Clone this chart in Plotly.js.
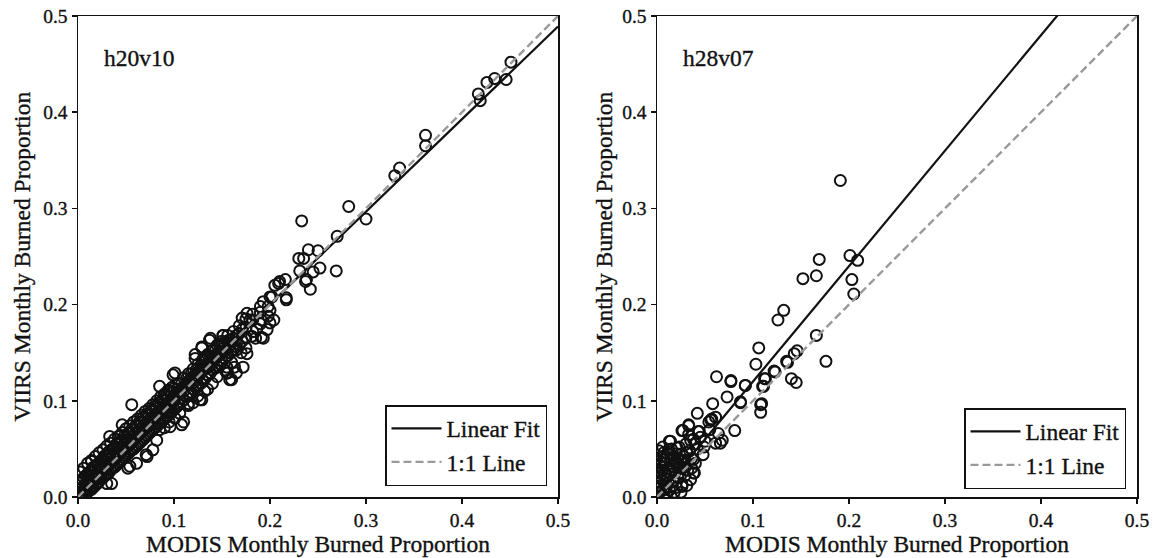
<!DOCTYPE html>
<html>
<head>
<meta charset="utf-8">
<script src="https://cdn.plot.ly/plotly-3.0.1.min.js"></script>
<style>
html,body{margin:0;padding:0;background:#fff;}
#chart{width:1153px;height:558px;}
#chart text{stroke:#111;stroke-width:0.35px;}
</style>
</head>
<body>
<div id="chart"></div>
<script>
// ---------------- DATA ----------------
const tileNames = ["h20v10", "h28v07"];
const xAxisTitle = "MODIS Monthly Burned Proportion";
const yAxisTitle = "VIIRS Monthly Burned Proportion";
const legendNames = ["Linear Fit", "1:1 Line"];
const tickValues = [0.0, 0.1, 0.2, 0.3, 0.4, 0.5];

// linear fit [intercept, slope] per tile
const fitH20v10 = [0.008, 0.962];
const fitH28v07 = [0.0, 1.2];

// [MODIS, VIIRS] pairs, tile h20v10
const pointsH20v10 = [
  // dense band
  [0.004,0.002],[0.004,0.010],[0.004,0.018],[0.004,0.000],
  [0.008,0.004],[0.008,0.014],[0.008,0.022],[0.008,0.009],
  [0.012,0.008],[0.012,0.018],[0.012,0.026],[0.012,0.013],
  [0.016,0.010],[0.016,0.022],[0.016,0.031],[0.016,0.016],
  [0.020,0.014],[0.020,0.026],[0.020,0.034],[0.020,0.021],
  [0.024,0.019],[0.024,0.030],[0.024,0.038],[0.024,0.026],
  [0.028,0.022],[0.028,0.034],[0.028,0.043],[0.028,0.029],
  [0.032,0.025],[0.032,0.039],[0.032,0.047],[0.032,0.034],
  [0.036,0.030],[0.036,0.042],[0.036,0.050],[0.036,0.037],
  [0.040,0.033],[0.040,0.046],[0.040,0.055],[0.040,0.041],
  [0.044,0.037],[0.044,0.050],[0.044,0.058],[0.044,0.045],
  [0.048,0.041],[0.048,0.054],[0.048,0.063],[0.048,0.049],
  [0.052,0.045],[0.052,0.058],[0.052,0.066],[0.052,0.053],
  [0.056,0.049],[0.056,0.062],[0.056,0.070],[0.056,0.058],
  [0.060,0.052],[0.060,0.066],[0.060,0.074],[0.060,0.061],
  [0.064,0.056],[0.064,0.070],[0.064,0.078],[0.064,0.065],
  [0.068,0.060],[0.068,0.074],[0.068,0.083],[0.068,0.069],
  [0.072,0.064],[0.072,0.078],[0.072,0.086],[0.072,0.073],
  [0.076,0.068],[0.076,0.082],[0.076,0.090],[0.076,0.077],
  [0.080,0.072],[0.080,0.086],[0.080,0.094],[0.080,0.081],
  [0.084,0.076],[0.084,0.089],[0.084,0.098],[0.084,0.085],
  [0.088,0.079],[0.088,0.094],[0.088,0.101],[0.088,0.088],
  [0.092,0.083],[0.092,0.097],[0.092,0.106],[0.092,0.093],
  [0.096,0.087],[0.096,0.101],[0.096,0.110],[0.096,0.097],
  [0.100,0.091],[0.100,0.105],[0.100,0.113],[0.100,0.100],
  [0.105,0.096],[0.105,0.110],[0.105,0.118],[0.105,0.106],
  [0.110,0.101],[0.110,0.115],[0.110,0.124],[0.110,0.110],
  [0.115,0.106],[0.115,0.120],[0.115,0.128],[0.115,0.116],
  [0.120,0.112],[0.120,0.125],[0.120,0.133],[0.120,0.119],
  [0.125,0.116],[0.125,0.130],[0.125,0.138],[0.125,0.125],
  [0.130,0.121],[0.130,0.134],[0.130,0.143],[0.130,0.131],
  [0.135,0.127],[0.135,0.139],[0.135,0.148],[0.135,0.135],
  [0.140,0.132],[0.140,0.144],[0.140,0.152],[0.140,0.140],
  [0.145,0.136],[0.145,0.149],[0.145,0.158],[0.145,0.146],
  [0.150,0.141],[0.150,0.154],[0.150,0.162],[0.150,0.150],
  [0.156,0.147],[0.156,0.160],[0.156,0.168],
  [0.162,0.153],[0.162,0.165],[0.162,0.172],
  [0.168,0.158],[0.168,0.170],[0.168,0.178],
  [0.175,0.166],[0.175,0.176],[0.175,0.185],
  [0.182,0.172],[0.182,0.184],[0.182,0.190],
  [0.190,0.180],[0.190,0.192],
  [0.198,0.188],[0.198,0.198],
  // second layer of the band
  [0.002,0.000],[0.002,0.016],[0.002,0.026],
  [0.006,0.001],[0.006,0.020],[0.006,0.030],[0.006,0.008],
  [0.010,0.005],[0.010,0.024],[0.010,0.035],[0.010,0.012],
  [0.014,0.008],[0.014,0.028],[0.014,0.038],[0.014,0.015],
  [0.018,0.012],[0.018,0.031],[0.018,0.042],[0.018,0.019],
  [0.022,0.016],[0.022,0.035],[0.022,0.046],[0.022,0.023],
  [0.026,0.020],[0.026,0.040],[0.026,0.049],[0.026,0.027],
  [0.030,0.024],[0.030,0.043],[0.030,0.053],[0.030,0.031],
  [0.034,0.028],[0.034,0.047],[0.034,0.056],[0.034,0.035],
  [0.038,0.031],[0.038,0.051],[0.038,0.060],[0.038,0.039],
  [0.042,0.035],[0.042,0.055],[0.042,0.063],[0.042,0.043],
  [0.046,0.039],[0.046,0.059],[0.046,0.067],[0.046,0.047],
  [0.050,0.043],[0.050,0.062],[0.050,0.071],[0.050,0.051],
  [0.054,0.047],[0.054,0.066],[0.054,0.074],[0.054,0.055],
  [0.058,0.050],[0.058,0.070],[0.058,0.078],[0.058,0.059],
  [0.062,0.054],[0.062,0.073],[0.062,0.081],[0.062,0.063],
  [0.066,0.058],[0.066,0.077],[0.066,0.085],[0.066,0.067],
  [0.070,0.062],[0.070,0.081],[0.070,0.089],[0.070,0.071],
  [0.074,0.066],[0.074,0.085],[0.074,0.092],[0.074,0.075],
  [0.078,0.070],[0.078,0.089],[0.078,0.096],[0.078,0.079],
  [0.082,0.073],[0.082,0.092],[0.082,0.100],[0.082,0.083],
  [0.086,0.077],[0.086,0.096],[0.086,0.104],[0.086,0.087],
  [0.090,0.081],[0.090,0.100],[0.090,0.107],[0.090,0.091],
  [0.094,0.085],[0.094,0.104],[0.094,0.111],[0.094,0.095],
  [0.098,0.089],[0.098,0.108],[0.098,0.114],[0.098,0.099],
  [0.103,0.094],[0.103,0.112],[0.103,0.108],
  [0.108,0.099],[0.108,0.118],[0.108,0.112],
  [0.113,0.104],[0.113,0.123],[0.113,0.117],
  [0.118,0.109],[0.118,0.128],[0.118,0.121],
  [0.123,0.114],[0.123,0.132],[0.123,0.126],
  [0.128,0.118],[0.128,0.137],[0.128,0.129],
  [0.133,0.124],[0.133,0.142],[0.133,0.134],
  [0.138,0.129],[0.138,0.146],[0.138,0.138],
  [0.143,0.134],[0.143,0.152],[0.143,0.144],
  [0.148,0.138],[0.148,0.156],[0.148,0.148],
  [0.153,0.144],[0.153,0.160],[0.153,0.152],
  [0.159,0.150],[0.159,0.163],[0.159,0.158],
  [0.165,0.156],[0.165,0.168],[0.165,0.164],
  [0.171,0.162],[0.171,0.174],
  [0.115,0.095],[0.125,0.105],[0.135,0.112],[0.145,0.125],[0.120,0.098],[0.140,0.118],
  [0.155,0.135],[0.160,0.140],[0.170,0.150],[0.175,0.155],[0.185,0.165],[0.090,0.072],[0.095,0.078],
  // scattered points
  [0.451,0.452],[0.446,0.434],[0.434,0.435],[0.426,0.431],[0.417,0.419],[0.419,0.412],
  [0.362,0.376],[0.362,0.365],[0.335,0.342],[0.330,0.334],
  [0.282,0.302],[0.300,0.289],[0.270,0.271],[0.269,0.235],[0.233,0.287],
  [0.240,0.257],[0.250,0.256],[0.252,0.238],[0.245,0.234],[0.238,0.226],[0.235,0.248],
  [0.230,0.248],[0.231,0.235],[0.242,0.216],[0.237,0.224],[0.217,0.207],
  [0.210,0.224],[0.216,0.226],[0.205,0.220],[0.202,0.208],[0.193,0.203],[0.190,0.198],
  [0.200,0.194],[0.176,0.191],[0.171,0.186],[0.179,0.184],[0.191,0.184],[0.200,0.181],
  [0.204,0.184],[0.197,0.174],[0.186,0.175],[0.181,0.167],[0.193,0.165],
  [0.129,0.156],[0.138,0.165],[0.122,0.148],[0.151,0.168],[0.157,0.163],[0.165,0.153],[0.176,0.149],
  [0.217,0.205],[0.209,0.222],[0.200,0.208],[0.191,0.166],
  [0.172,0.135],[0.158,0.122],[0.165,0.129],[0.155,0.129],
  [0.099,0.127],[0.085,0.115],[0.056,0.096],[0.046,0.075],[0.033,0.063],[0.014,0.037],
  [0.132,0.110],[0.110,0.078],[0.078,0.049],[0.127,0.101],[0.124,0.115],
  [0.106,0.087],[0.096,0.073],[0.085,0.070],[0.082,0.059],[0.072,0.042],
  [0.054,0.032],[0.030,0.014],[0.061,0.035],[0.138,0.139],[0.144,0.146],[0.151,0.160],
  [0.101,0.129],[0.122,0.144],[0.129,0.155],[0.137,0.163],[0.141,0.153],[0.151,0.168],
  [0.156,0.129],[0.160,0.122],[0.163,0.135],[0.153,0.132],
  [0.129,0.101],[0.108,0.075],[0.101,0.082],[0.071,0.044],[0.052,0.030],[0.035,0.014],
  [0.092,0.089],[0.115,0.097]
];

// [MODIS, VIIRS] pairs, tile h28v07
const pointsH28v07 = [
  [0.191,0.329],[0.169,0.247],[0.201,0.251],[0.209,0.246],[0.152,0.227],[0.166,0.230],
  [0.203,0.226],[0.205,0.211],[0.132,0.194],[0.126,0.184],[0.166,0.168],[0.106,0.155],
  [0.176,0.141],[0.103,0.138],[0.146,0.152],[0.143,0.149],[0.136,0.140],[0.122,0.131],
  [0.140,0.123],[0.145,0.119],[0.112,0.123],[0.110,0.115],[0.092,0.116],[0.087,0.099],
  [0.108,0.096],[0.062,0.125],[0.077,0.120],[0.111,0.115],[0.073,0.104],[0.058,0.097],
  [0.109,0.097],[0.087,0.098],[0.108,0.088],[0.042,0.087],[0.056,0.080],[0.054,0.078],
  [0.081,0.069],[0.064,0.066],[0.068,0.059],[0.033,0.075],[0.026,0.069],[0.043,0.068],
  [0.035,0.059],[0.013,0.058],[0.012,0.049],[0.021,0.051],[0.049,0.052],[0.061,0.056],
  [0.028,0.042],[0.007,0.039],[0.038,0.039],[0.017,0.032],[0.039,0.025],[0.026,0.011],
  [0.005,0.018],[0.010,0.011],[0.002,0.028],[0.077,0.121],[0.092,0.116],[0.113,0.123],
  [0.123,0.130],[0.135,0.141],[0.057,0.081],[0.061,0.083],[0.033,0.074],[0.027,0.069],
  [0.014,0.058],[0.066,0.056],[0.038,0.025],[0.026,0.013],
  // dense cluster near the origin
  [0.002,0.005],[0.004,0.012],[0.003,0.020],[0.006,0.028],[0.008,0.035],[0.005,0.042],
  [0.010,0.003],[0.012,0.015],[0.014,0.024],[0.016,0.032],[0.018,0.040],[0.015,0.050],
  [0.020,0.010],[0.022,0.020],[0.024,0.030],[0.026,0.045],[0.028,0.038],[0.030,0.055],
  [0.032,0.028],[0.034,0.048],[0.036,0.040],[0.038,0.060],[0.040,0.035],[0.042,0.050],
  [0.045,0.062],[0.048,0.044],[0.001,0.000],[0.007,0.000],[0.009,0.018],[0.011,0.045],
  [0.013,0.007],[0.017,0.017],[0.019,0.026],[0.021,0.034],[0.023,0.052],[0.025,0.005],
  [0.029,0.022],[0.031,0.012],[0.003,0.033],[0.006,0.052],[0.000,0.015],[0.000,0.025],
  [0.000,0.040],[0.002,0.048],[0.035,0.018],[0.050,0.058],[0.055,0.070],[0.044,0.068],
  [0.033,0.065],[0.008,0.025],[0.018,0.005],[0.020,0.045],[0.027,0.030],[0.015,0.038],
  [0.004,0.006],[0.010,0.022],[0.022,0.040],[0.030,0.036],[0.012,0.030],[0.001,0.010],
  [0.005,0.035],[0.009,0.008],[0.014,0.044],[0.016,0.012],[0.019,0.036],[0.023,0.025],
  [0.025,0.038],[0.031,0.046],[0.036,0.030],[0.040,0.055],[0.007,0.046],[0.003,0.026]
];

// ---------------- BUILD ----------------
const FONT = "Liberation Serif, Times New Roman, serif";
const xRange = [0, 0.5];

function fitLine(fit) {
  return xRange.map(x => fit[0] + fit[1] * x);
}

function panelTraces(points, fit, xa, ya, legendId) {
  return [
    {
      x: points.map(p => p[0]), y: points.map(p => p[1]),
      xaxis: xa, yaxis: ya, type: "scatter", mode: "markers", showlegend: false,
      marker: {symbol: "circle-open", size: 11, color: "#111", line: {width: 2, color: "#111"}},
      hoverinfo: "skip"
    },
    {
      x: xRange, y: fitLine(fit), xaxis: xa, yaxis: ya, type: "scatter", mode: "lines",
      name: legendNames[0], legend: legendId,
      line: {color: "#111", width: 2.2}
    },
    {
      x: xRange, y: xRange, xaxis: xa, yaxis: ya, type: "scatter", mode: "lines",
      name: legendNames[1], legend: legendId,
      line: {color: "#999", width: 2.4, dash: "8px,4px"}
    }
  ];
}

const data = [
  ...panelTraces(pointsH20v10, fitH20v10, "x", "y", "legend"),
  ...panelTraces(pointsH28v07, fitH28v07, "x2", "y2", "legend2")
];

const W = 1153, H = 558;
const TICK = 19.5, TITLE = 23.5;
function axisCommon() {
  return {
    range: xRange, tickvals: tickValues, tickformat: ".1f",
    showline: true, mirror: true, linecolor: "#111", linewidth: 1.5,
    ticks: "outside", ticklen: 5, tickwidth: 1.5, tickcolor: "#111",
    showgrid: false, zeroline: false,
    tickfont: {family: FONT, size: TICK, color: "#111"}
  };
}

const yDom = [(H - 497) / H, (H - 16) / H];
const titleFont = {family: FONT, size: TITLE, color: "#111"};
const layout = {
  width: W, height: H,
  margin: {l: 0, r: 0, t: 0, b: 0},
  paper_bgcolor: "#fff", plot_bgcolor: "#fff",
  font: {family: FONT, color: "#111"},
  xaxis: Object.assign(axisCommon(), {domain: [78 / W, 558 / W], anchor: "y"}),
  yaxis: Object.assign(axisCommon(), {domain: yDom, anchor: "x"}),
  xaxis2: Object.assign(axisCommon(), {domain: [657 / W, 1137 / W], anchor: "y2"}),
  yaxis2: Object.assign(axisCommon(), {domain: yDom, anchor: "x2"}),
  legend: {
    x: 547 / W, xanchor: "right", xref: "paper",
    y: (H - 486) / H, yanchor: "bottom", yref: "paper",
    bgcolor: "#fff", bordercolor: "#111", borderwidth: 1.5,
    font: titleFont, itemwidth: 50, tracegroupgap: 0
  },
  legend2: {
    x: 1126 / W, xanchor: "right", xref: "paper",
    y: (H - 489) / H, yanchor: "bottom", yref: "paper",
    bgcolor: "#fff", bordercolor: "#111", borderwidth: 1.5,
    font: titleFont, itemwidth: 50, tracegroupgap: 0
  },
  annotations: [
    {xref: "x", yref: "y", x: 0.025, y: 0.456, text: tileNames[0], showarrow: false,
     xanchor: "left", yanchor: "middle", font: titleFont},
    {xref: "x2", yref: "y2", x: 0.025, y: 0.456, text: tileNames[1], showarrow: false,
     xanchor: "left", yanchor: "middle", font: titleFont},
    // axis titles
    {xref: "x domain", yref: "paper", x: 0.5, y: (H - 544) / H, text: xAxisTitle, showarrow: false,
     xanchor: "center", yanchor: "middle", font: titleFont},
    {xref: "x2 domain", yref: "paper", x: 0.5, y: (H - 544) / H, text: xAxisTitle, showarrow: false,
     xanchor: "center", yanchor: "middle", font: titleFont},
    {xref: "paper", yref: "y domain", x: 21 / W, y: 0.5, text: yAxisTitle, showarrow: false,
     textangle: -90, xanchor: "center", yanchor: "middle", font: titleFont},
    {xref: "paper", yref: "y2 domain", x: 603 / W, y: 0.5, text: yAxisTitle, showarrow: false,
     textangle: -90, xanchor: "center", yanchor: "middle", font: titleFont}
  ],
  showlegend: true
};

Plotly.newPlot("chart", data, layout, {displayModeBar: false, staticPlot: true});
</script>
</body>
</html>
